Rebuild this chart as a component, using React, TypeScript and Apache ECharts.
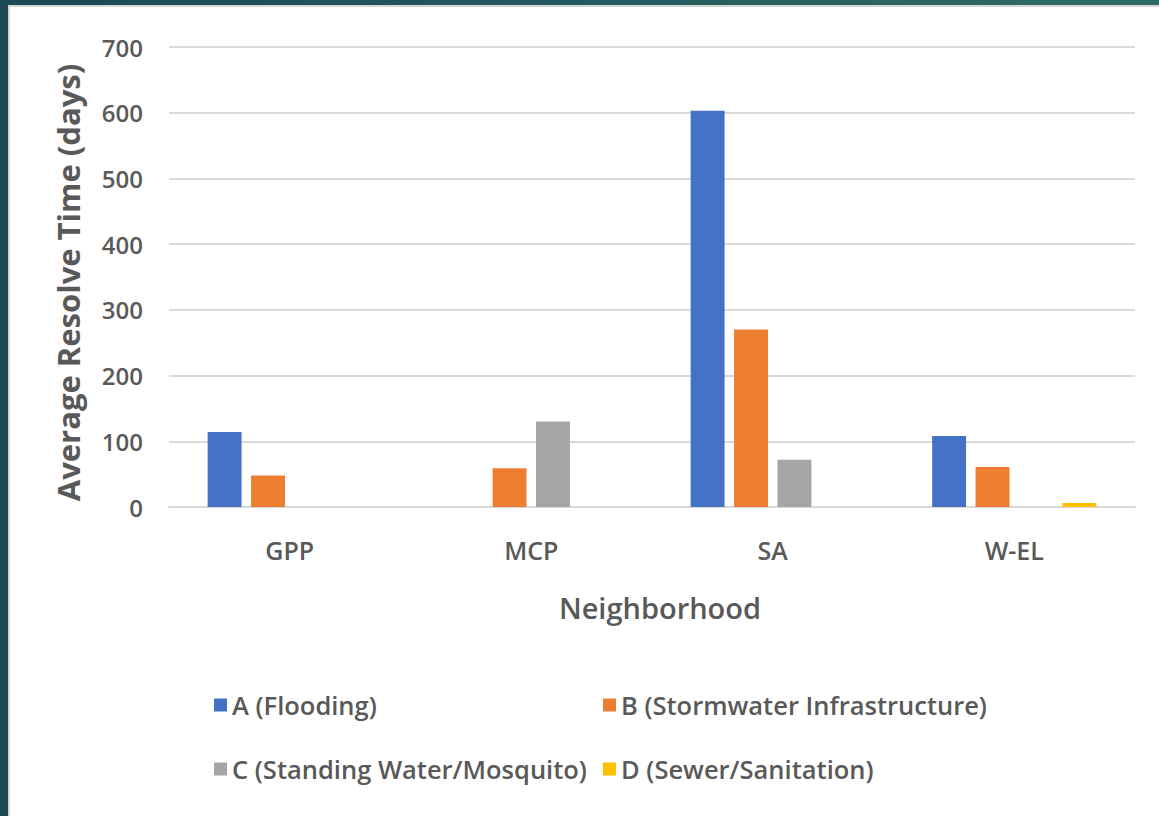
import React, { useEffect, useRef } from "react";
import * as echarts from "echarts";

const categories = ["GPP", "MCP", "SA", "W-EL"];
const seriesNames = [
  "A (Flooding)",
  "B (Stormwater Infrastructure)",
  "C (Standing Water/Mosquito)",
  "D (Sewer/Sanitation)",
];
const flooding = [114, null, 603, 108];
const stormwater = [48, 59, 270, 61];
const standingWater = [null, 130, 72, null];
const sewer = [null, null, null, 6];
const colors = ["#4472C4", "#ED7D31", "#A5A5A5", "#FFC000"];

const FONT = "'Open Sans', sans-serif";
const TEXT = "#595959";

export default function App() {
  const ref = useRef<HTMLDivElement>(null);
  useEffect(() => {
    if (!ref.current) return;
    const chart = echarts.init(ref.current, null, { renderer: "svg" });
    const values = [flooding, stormwater, standingWater, sewer];
    const legendPos = [
      { left: 199, top: 680 },
      { left: 588, top: 680 },
      { left: 199, top: 744 },
      { left: 588, top: 744 },
    ];
    chart.setOption({
      animation: false,
      backgroundColor: "#ffffff",
      textStyle: { fontFamily: FONT },
      grid: { left: 159, right: 24, top: 40, bottom: 309, containLabel: false },
      legend: seriesNames.map((n, i) => ({
        data: [n],
        left: legendPos[i].left,
        top: legendPos[i].top,
        itemWidth: 13,
        itemHeight: 13,
        icon: "rect",
        textStyle: { fontSize: 25.5, color: TEXT, fontFamily: FONT, fontWeight: 600 },
      })),
      xAxis: {
        type: "category",
        data: categories,
        name: "Neighborhood",
        nameLocation: "middle",
        nameGap: 86,
        nameTextStyle: {
          fontSize: 29,
          color: TEXT,
          fontWeight: 600,
          fontFamily: FONT,
          padding: [0, 0, 0, 16],
        },
        axisLine: { show: true, lineStyle: { color: "#d9d9d9", width: 2 } },
        axisTick: { show: false },
        axisLabel: { fontSize: 25, color: TEXT, fontWeight: 600, margin: 30, fontFamily: FONT },
      },
      yAxis: {
        type: "value",
        min: 0,
        max: 700,
        interval: 100,
        name: "Average Resolve Time (days)",
        nameLocation: "middle",
        nameGap: 86,
        nameTextStyle: {
          fontSize: 31,
          color: TEXT,
          fontWeight: "bold",
          fontFamily: FONT,
          padding: [0, 11, 0, 0],
        },
        axisLine: { show: false },
        axisTick: { show: false },
        axisLabel: { fontSize: 24, color: TEXT, fontWeight: 600, margin: 26, fontFamily: FONT },
        splitLine: { lineStyle: { color: "#d9d9d9", width: 2 } },
      },
      series: seriesNames.map((n, i) => ({
        name: n,
        type: "bar",
        data: values[i],
        itemStyle: { color: colors[i] },
        barGap: "28%",
        barCategoryGap: "32%",
      })),
    });
    return () => chart.dispose();
  }, []);
  return (
    <div
      style={{
        position: "fixed",
        left: 0,
        top: 0,
        width: 1159,
        height: 816,
        background: "linear-gradient(90deg, #1b4853 0%, #235a5e 50%, #2e6e66 100%)",
      }}
    >
      <div
        ref={ref}
        style={{
          position: "absolute",
          left: 8,
          top: 5,
          width: 1151,
          height: 811,
          borderTop: "2px solid #d6d6d6",
          borderLeft: "2px solid #d6d6d6",
          boxSizing: "border-box",
        }}
      />
    </div>
  );
}
